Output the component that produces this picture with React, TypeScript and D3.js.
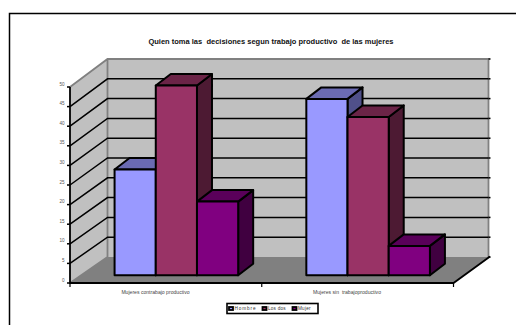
import React from "react";
import * as d3 from "d3";

// Survey shares by category and respondent group
const categories = ["Mujeres contrabajo productivo", "Mujeres sin  trabajoproductivo"];
const seriesNames = ["Hombre", "Los dos", "Mujer"];
const hombre = [27, 45];
const losDos = [48.4, 40.4];
const mujer = [18.8, 7.5];
const yTicks = [0, 5, 10, 15, 20, 25, 30, 35, 40, 45, 50];
const title = "Quien toma las  decisiones segun trabajo productivo  de las mujeres";

const seriesValues = [hombre, losDos, mujer];
const faceFill = ["#9999FF", "#993366", "#800080"];
const topFill = ["#6B6BB3", "#6B2447", "#5A005A"];
const sideFill = ["#50508A", "#4D1A33", "#400040"];

const W = 516;
const H = 325;
const FONT = "'Liberation Sans', Arial, sans-serif";

// Oblique projection: front plane, back wall and the plane of the bars
const xFront = d3.scaleBand<string>().domain(categories).range([70, 453.5]);
const yFront = d3.scaleLinear().domain([0, 50]).range([283, 87]);
const yBack = d3.scaleLinear().domain([0, 50]).range([257, 59]);
const yBar = d3.scaleLinear().domain([0, 50]).range([275.3, 79.3]);
const wallLeft = 107.5;
const wallRight = 488.5;
const barDx = 10.5;
const depthDx = 15;
const depthDy = -11.5;
const barWidth = 41.2;
const xSeries = d3
  .scaleBand<number>()
  .domain(d3.range(seriesNames.length))
  .range([-barWidth * 1.5, barWidth * 1.5]);

const poly = (pts: [number, number][]) => d3.line()(pts) + "Z";

export default function App() {
  const leftX = xFront.range()[0];
  const rightX = xFront.range()[1];
  return (
    <svg
      width={W}
      height={H}
      viewBox={`0 0 ${W} ${H}`}
      style={{ position: "absolute", left: 0, top: 0, background: "#fff" }}
      fontFamily={FONT}
    >
      {/* Chart frame, cut by the page on the right and bottom */}
      <path d={`M9.5 ${H}V13.5H${W}`} fill="none" stroke="#000" strokeWidth={1.5} />

      <text x={271} y={44} textAnchor="middle" fontSize={7.5} fontWeight="bold" fill="#111" style={{ whiteSpace: "pre" }}>
        {title}
      </text>

      {/* Walls and floor */}
      <path
        d={poly([
          [leftX, yFront(50)],
          [wallLeft, yBack(50)],
          [wallLeft, yBack(0)],
          [leftX, yFront(0)],
        ])}
        fill="#C0C0C0"
      />
      <rect x={wallLeft} y={yBack(50)} width={wallRight - wallLeft} height={yBack(0) - yBack(50)} fill="#C0C0C0" />
      <path
        d={poly([
          [leftX, yFront(0)],
          [wallLeft, yBack(0)],
          [wallRight + 1.5, yBack(0)],
          [rightX, yFront(0)],
        ])}
        fill="#808080"
      />
      <path
        d={`M${leftX} ${yFront(50)}L${wallLeft} ${yBack(50)}H${wallRight}V${yBack(0)}M${wallLeft} ${yBack(50)}V${yBack(0)}L${leftX} ${yFront(0)}`}
        fill="none"
        stroke="#808080"
        strokeWidth={1.8}
      />

      {/* Gridlines with ticks on both ends */}
      {yTicks.map((t) => (
        <g key={t} stroke="#000" strokeWidth={1.5} fill="none">
          {t > 0 && t < 50 && (
            <path d={`M${leftX} ${yFront(t)}L${wallLeft} ${yBack(t)}H${wallRight}`} />
          )}
          <line x1={leftX - 3} x2={leftX} y1={yFront(t)} y2={yFront(t)} />
          <line x1={wallRight} x2={wallRight + 2} y1={yBack(t)} y2={yBack(t)} />
        </g>
      ))}

      {/* Axis lines along the front plane */}
      <path
        d={`M${leftX} ${yFront(50)}V${yFront(0)}H${rightX}L${wallRight + 1.5} ${yBack(0) - 0.5}`}
        fill="none"
        stroke="#000"
        strokeWidth={1.8}
      />
      {[leftX, ...categories.map((c) => (xFront(c) as number) + xFront.bandwidth())].map((x) => (
        <line key={x} x1={x} x2={x} y1={yFront(0)} y2={yFront(0) + 4} stroke="#000" strokeWidth={1.2} />
      ))}

      {yTicks.map((t) => (
        <text key={t} x={64.5} y={yFront(t) - 1.5} textAnchor="end" fontSize={4.6} fill="#555">
          {t}
        </text>
      ))}

      {/* Bars, painted left to right so each overlaps its neighbour's side */}
      {categories.map((c, ci) =>
        seriesValues.map((values, si) => {
          const cx = (xFront(c) as number) + xFront.bandwidth() / 2 + barDx;
          const x0 = cx + (xSeries(si) as number);
          const x1 = x0 + barWidth;
          const y0 = yBar(0);
          const y1 = yBar(values[ci]);
          return (
            <g key={`${c}-${si}`} stroke="#000" strokeWidth={2} strokeLinejoin="round">
              <path
                d={poly([
                  [x1, y1],
                  [x1 + depthDx, y1 + depthDy],
                  [x1 + depthDx, y0 + depthDy],
                  [x1, y0],
                ])}
                fill={sideFill[si]}
              />
              <path
                d={poly([
                  [x0, y1],
                  [x0 + depthDx, y1 + depthDy],
                  [x1 + depthDx, y1 + depthDy],
                  [x1, y1],
                ])}
                fill={topFill[si]}
              />
              <rect x={x0} y={y1} width={barWidth} height={y0 - y1} fill={faceFill[si]} />
            </g>
          );
        })
      )}

      {categories.map((c, i) => (
        <text
          key={c}
          x={[155.5, 347][i]}
          y={294}
          textAnchor="middle"
          fontSize={5.1}
          fill="#444"
          style={{ whiteSpace: "pre" }}
        >
          {c}
        </text>
      ))}

      {/* Legend */}
      <rect x={227} y={303.5} width={91} height={10} fill="#fff" stroke="#000" strokeWidth={1.6} />
      {seriesNames.map((name, i) => {
        const sx = [229, 262.5, 292.5][i];
        return (
          <g key={name}>
            <rect x={sx} y={307} width={4} height={3} fill={faceFill[i]} stroke="#000" strokeWidth={1.8} />
            <text
              x={sx + 5.5}
              y={310.4}
              fontSize={4.7}
              fill="#333"
              letterSpacing={i === 0 ? 0.9 : 0.2}
            >
              {name}
            </text>
          </g>
        );
      })}
    </svg>
  );
}
